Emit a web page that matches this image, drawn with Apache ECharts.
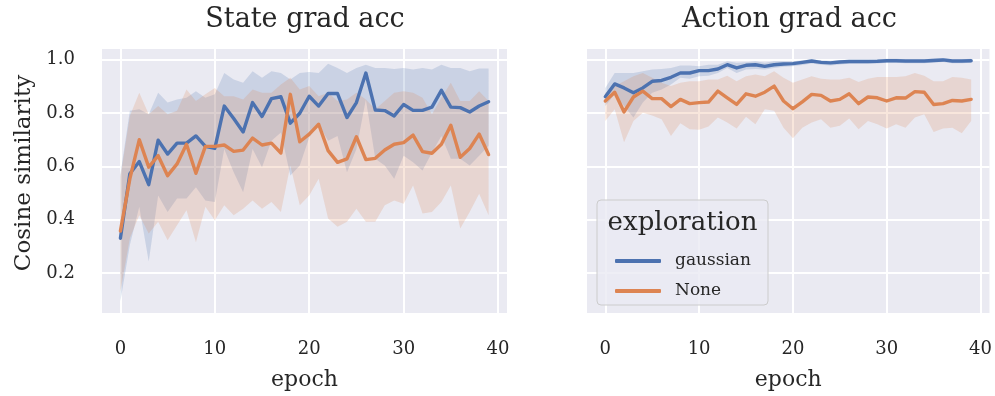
<!DOCTYPE html>
<html><head><meta charset="utf-8">
<script src="https://cdn.jsdelivr.net/npm/echarts@6/dist/echarts.min.js"></script>
<style>html,body{margin:0;padding:0;background:#fff}#c{width:995px;height:396px}</style>
</head><body><div id="c"></div>
<script>
const epochs = [0,1,2,3,4,5,6,7,8,9,10,11,12,13,14,15,16,17,18,19,20,21,22,23,24,25,26,27,28,29,30,31,32,33,34,35,36,37,38,39];
const xTicks = [0,10,20,30,40];
const yTicks = [0.2,0.4,0.6,0.8,1.0];
const panelTitles = ['State grad acc','Action grad acc'];
const seriesNames = ['gaussian','None'];

// State grad acc
const stateGaussMean = [0.330,0.572,0.618,0.531,0.698,0.646,0.687,0.687,0.714,0.675,0.667,0.826,0.779,0.729,0.839,0.787,0.854,0.861,0.762,0.799,
  0.863,0.826,0.873,0.873,0.783,0.839,0.950,0.811,0.809,0.789,0.832,0.810,0.810,0.822,0.885,0.822,0.820,0.804,0.826,0.842];
const stateGaussLo = [0.094,0.305,0.448,0.243,0.491,0.429,0.479,0.479,0.522,0.472,0.466,0.665,0.578,0.503,0.665,0.597,0.696,0.727,0.566,0.603,
  0.708,0.758,0.696,0.714,0.578,0.665,0.851,0.628,0.603,0.553,0.640,0.615,0.584,0.652,0.714,0.628,0.628,0.603,0.640,0.677];
const stateGaussHi = [0.570,0.808,0.814,0.795,0.876,0.839,0.851,0.857,0.882,0.857,0.870,0.950,0.926,0.913,0.957,0.932,0.957,0.950,0.926,0.950,
  0.954,0.950,0.985,0.969,0.950,0.969,0.981,0.969,0.969,0.965,0.969,0.963,0.969,0.963,0.981,0.969,0.969,0.957,0.967,0.967];
const stateNoneMean = [0.357,0.553,0.700,0.597,0.640,0.565,0.609,0.683,0.574,0.675,0.675,0.680,0.656,0.661,0.706,0.680,0.687,0.650,0.870,0.692,
  0.721,0.758,0.659,0.615,0.628,0.711,0.625,0.630,0.661,0.683,0.689,0.717,0.655,0.649,0.683,0.754,0.634,0.667,0.721,0.644];
const stateNoneLo = [0.131,0.330,0.417,0.348,0.392,0.323,0.379,0.435,0.315,0.448,0.398,0.454,0.417,0.441,0.472,0.441,0.466,0.429,0.603,0.454,
  0.491,0.553,0.404,0.373,0.392,0.441,0.392,0.392,0.454,0.472,0.460,0.528,0.423,0.429,0.466,0.528,0.367,0.429,0.497,0.417];
const stateNoneHi = [0.560,0.789,0.876,0.795,0.826,0.795,0.808,0.888,0.845,0.870,0.894,0.863,0.863,0.851,0.888,0.876,0.876,0.907,0.932,0.888,
  0.901,0.863,0.876,0.845,0.851,0.876,0.851,0.814,0.845,0.876,0.882,0.876,0.857,0.795,0.857,0.913,0.845,0.845,0.882,0.845];

// Action grad acc
const actionGaussMean = [0.861,0.909,0.894,0.876,0.894,0.919,0.922,0.934,0.950,0.950,0.959,0.959,0.965,0.981,0.969,0.979,0.981,0.975,0.981,0.984,
  0.985,0.990,0.995,0.990,0.988,0.991,0.993,0.993,0.993,0.994,0.996,0.996,0.995,0.995,0.995,0.997,0.999,0.995,0.995,0.996];
const actionGaussLo = [0.826,0.870,0.826,0.783,0.839,0.876,0.888,0.907,0.932,0.928,0.938,0.940,0.950,0.969,0.950,0.963,0.965,0.963,0.969,0.973,
  0.975,0.980,0.986,0.981,0.978,0.982,0.985,0.985,0.985,0.986,0.988,0.988,0.987,0.987,0.987,0.989,0.991,0.987,0.987,0.988];
const actionGaussHi = [0.894,0.950,0.950,0.950,0.957,0.963,0.965,0.969,0.978,0.978,0.975,0.981,0.981,0.994,0.988,0.990,0.994,0.988,0.994,0.994,
  0.994,0.998,1.002,0.998,0.996,0.999,1.000,1.000,1.000,1.001,1.003,1.003,1.002,1.002,1.002,1.004,1.006,1.002,1.002,1.003];
const actionNoneMean = [0.845,0.878,0.804,0.860,0.882,0.854,0.854,0.824,0.851,0.835,0.839,0.841,0.882,0.857,0.832,0.872,0.863,0.878,0.901,0.845,
  0.816,0.842,0.870,0.866,0.845,0.851,0.872,0.835,0.860,0.857,0.845,0.857,0.856,0.880,0.878,0.832,0.835,0.847,0.845,0.851];
const actionNoneLo = [0.770,0.814,0.690,0.770,0.801,0.791,0.777,0.714,0.762,0.739,0.737,0.749,0.783,0.764,0.742,0.786,0.758,0.814,0.808,0.745,
  0.705,0.745,0.764,0.777,0.745,0.752,0.779,0.739,0.770,0.758,0.742,0.758,0.745,0.783,0.795,0.729,0.742,0.745,0.724,0.770];
const actionNoneHi = [0.876,0.901,0.919,0.938,0.950,0.932,0.913,0.901,0.913,0.919,0.919,0.926,0.926,0.940,0.919,0.938,0.944,0.938,0.957,0.932,
  0.913,0.926,0.938,0.928,0.926,0.926,0.932,0.916,0.928,0.935,0.935,0.935,0.938,0.950,0.940,0.919,0.919,0.935,0.932,0.926];

const BLUE = '#4C72B0', ORANGE = '#DD8452';
const FONT = 'DejaVu Serif';
const TXT = '#262626';

function pairs(arr){ return epochs.map((e,i)=>[e, arr[i]]); }
function band(idx, lo, hi, color){
  return {type:'custom', xAxisIndex:idx, yAxisIndex:idx, data:[[epochs[0], lo[0]]], silent:true, z:1, animation:false,
    renderItem:function(params, api){
      const pts = [];
      for (let i=0;i<epochs.length;i++) pts.push(api.coord([epochs[i], hi[i]]));
      for (let i=epochs.length-1;i>=0;i--) pts.push(api.coord([epochs[i], lo[i]]));
      return {type:'polygon', shape:{points:pts}, style:{fill:color, opacity:0.2}};
    }};
}
function line(idx, name, mean, color){
  return {type:'line', name:name, xAxisIndex:idx, yAxisIndex:idx, data:pairs(mean), symbol:'none',
    lineStyle:{width:3.4, color:color, join:'round', cap:'round'}, itemStyle:{color:color}, z:3, animation:false};
}
function xAx(idx){
  return {type:'value', gridIndex:idx, min:-1.95, max:40.95,
    axisLine:{show:false}, axisTick:{show:false, customValues:xTicks},
    axisLabel:{customValues:xTicks, fontFamily:FONT, fontSize:18, color:TXT, margin:27},
    splitLine:{show:true, lineStyle:{color:'#ffffff', width:2}},
    name:'epoch', nameLocation:'middle', nameGap:56, nameTextStyle:{fontFamily:FONT, fontSize:22, color:TXT}};
}
function yAx(idx, showLabels){
  return {type:'value', gridIndex:idx, min:0.05, max:1.04,
    axisLine:{show:false}, axisTick:{show:false, customValues:yTicks},
    axisLabel:{show:showLabels, customValues:yTicks, fontFamily:FONT, fontSize:18, color:TXT, margin:27,
      formatter:(v)=>v.toFixed(1)},
    splitLine:{show:true, lineStyle:{color:'#ffffff', width:2}}};
}

const chart = echarts.init(document.getElementById('c'), null, {renderer:'canvas'});
chart.setOption({
  animation:false,
  backgroundColor:'#ffffff',
  grid:[
    {left:102, top:49, width:405, height:265, show:true, backgroundColor:'#EAEAF2', borderWidth:0},
    {left:587, top:49, width:405, height:265, show:true, backgroundColor:'#EAEAF2', borderWidth:0}
  ],
  xAxis:[xAx(0), xAx(1)],
  yAxis:[yAx(0,true), yAx(1,false)],
  legend:{data:seriesNames, orient:'vertical', left:610, top:247, icon:'roundRect', itemWidth:46, itemHeight:4,
    itemGap:12, z:30, textStyle:{fontFamily:FONT, fontSize:17, color:TXT, lineHeight:18, padding:[0,0,0,9]}, selectedMode:false},
  graphic:[
    {type:'text', x:305, y:20, style:{text:panelTitles[0], font:'27px "DejaVu Serif"', fill:TXT, textAlign:'center', textVerticalAlign:'middle'}},
    {type:'text', x:789.5, y:20, style:{text:panelTitles[1], font:'27px "DejaVu Serif"', fill:TXT, textAlign:'center', textVerticalAlign:'middle'}},
    {type:'text', x:24, y:173, rotation:Math.PI/2, style:{text:'Cosine similarity', font:'23px "DejaVu Serif"', fill:TXT, textAlign:'center', textVerticalAlign:'middle'}},
    {type:'rect', shape:{x:597, y:200, width:171, height:105, r:4}, style:{fill:'rgba(234,234,242,0.8)', stroke:'#cccccc', lineWidth:1}, z:10},
    {type:'text', x:682.5, y:223, style:{text:'exploration', font:'26px "DejaVu Serif"', fill:TXT, textAlign:'center', textVerticalAlign:'middle'}, z:11}
  ],
  series:[
    band(0, stateGaussLo, stateGaussHi, BLUE),
    band(0, stateNoneLo, stateNoneHi, ORANGE),
    line(0, seriesNames[0], stateGaussMean, BLUE),
    line(0, seriesNames[1], stateNoneMean, ORANGE),
    band(1, actionGaussLo, actionGaussHi, BLUE),
    band(1, actionNoneLo, actionNoneHi, ORANGE),
    line(1, seriesNames[0], actionGaussMean, BLUE),
    line(1, seriesNames[1], actionNoneMean, ORANGE)
  ]
});
</script></body></html>
